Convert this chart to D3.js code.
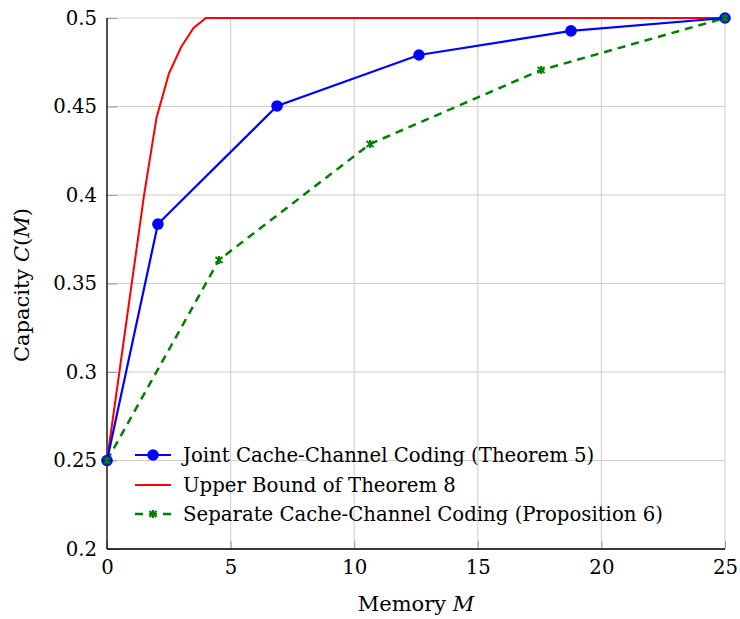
<!DOCTYPE html>
<html><head><meta charset="utf-8">
<script src="https://cdn.jsdelivr.net/npm/d3@7"></script>
<style>body{margin:0;background:#fff} text{font-family:'DejaVu Serif',serif}</style>
</head><body>
<svg id="c" width="740" height="619"></svg>
<script>
const jointX = [0, 2.06, 6.88, 12.62, 18.77, 25];
const jointY = [0.25, 0.3836, 0.4503, 0.4791, 0.4927, 0.5];
const upperX = [0, 0.5, 1, 1.5, 2, 2.5, 3, 3.5, 4, 25];
const upperY = [0.25, 0.30, 0.35, 0.40, 0.4435, 0.4684, 0.4836, 0.4944, 0.5, 0.5];
const sepX = [0, 4.53, 10.64, 17.56, 25];
const sepY = [0.25, 0.3633, 0.4288, 0.4706, 0.5];
const xTicks = [0, 5, 10, 15, 20, 25];
const yTicks = [0.2, 0.25, 0.3, 0.35, 0.4, 0.45, 0.5];
const legendLabels = ["Joint Cache-Channel Coding (Theorem 5)", "Upper Bound of Theorem 8", "Separate Cache-Channel Coding (Proposition 6)"];

const svg = d3.select("#c");
const font = "'DejaVu Serif',serif";
const fs = 19.7;
const x = d3.scaleLinear().domain([0, 25]).range([107, 725]);
const y = d3.scaleLinear().domain([0.2, 0.5]).range([549, 18]);

// grid
svg.append("g").selectAll("line").data(xTicks).join("line")
  .attr("x1", d => x(d)).attr("x2", d => x(d)).attr("y1", y(0.2)).attr("y2", y(0.5))
  .attr("stroke", "#cccccc").attr("stroke-width", 1);
svg.append("g").selectAll("line").data(yTicks).join("line")
  .attr("x1", x(0)).attr("x2", x(25)).attr("y1", d => y(d)).attr("y2", d => y(d))
  .attr("stroke", "#cccccc").attr("stroke-width", 1);

// axes
const xAxis = d3.axisBottom(x).tickValues(xTicks).tickSize(-8).tickPadding(11).tickFormat(d3.format("d"));
const yAxis = d3.axisLeft(y).tickValues(yTicks).tickSize(-10).tickPadding(10).tickFormat(d => String(d));
const gx = svg.append("g").attr("transform", `translate(0,${y(0.2)})`).call(xAxis);
const gy = svg.append("g").attr("transform", `translate(${x(0)},0)`).call(yAxis);
[gx, gy].forEach(g => {
  g.attr("font-family", null).attr("font-size", null);
  g.select(".domain").remove();
  g.selectAll(".tick line").attr("stroke", "#999");
  g.selectAll("text").style("font-family", font).style("font-size", fs + "px").attr("fill", "#000");
});
svg.append("line").attr("x1", x(0)).attr("x2", x(0)).attr("y1", y(0.2)).attr("y2", y(0.5)).attr("stroke", "#000").attr("stroke-width", 1.3);
svg.append("line").attr("x1", x(0)).attr("x2", x(25)).attr("y1", y(0.2)).attr("y2", y(0.2)).attr("stroke", "#000").attr("stroke-width", 1.3);

const line = d3.line().x(d => x(d[0])).y(d => y(d[1]));
const upper = upperX.map((v, i) => [v, upperY[i]]);
const joint = jointX.map((v, i) => [v, jointY[i]]);
const sep = sepX.map((v, i) => [v, sepY[i]]);

svg.append("path").attr("d", line(upper)).attr("fill", "none").attr("stroke", "#ff0000").attr("stroke-width", 2);
svg.append("path").attr("d", line(sep)).attr("fill", "none").attr("stroke", "#008000").attr("stroke-width", 2.5).attr("stroke-dasharray", "8,6");
svg.append("path").attr("d", line(joint)).attr("fill", "none").attr("stroke", "#0000ff").attr("stroke-width", 2.2);
svg.append("g").selectAll("circle").data(joint).join("circle")
  .attr("cx", d => x(d[0])).attr("cy", d => y(d[1])).attr("r", 5.8).attr("fill", "#0000ff");

function cross(g, cx, cy) {
  g.append("path").attr("d", `M${cx - 3.5},${cy - 3}L${cx + 3.5},${cy + 3}M${cx + 3.5},${cy - 3}L${cx - 3.5},${cy + 3}M${cx},${cy - 4}L${cx},${cy + 4}`)
    .attr("stroke", "#008000").attr("stroke-width", 2).attr("fill", "none");
}
const mg = svg.append("g");
sep.forEach(d => cross(mg, x(d[0]), y(d[1])));

// legend
const ly = [455, 485, 514];
const lg = svg.append("g");
lg.append("line").attr("x1", 135).attr("x2", 171).attr("y1", ly[0]).attr("y2", ly[0]).attr("stroke", "#0000ff").attr("stroke-width", 2.2);
lg.append("circle").attr("cx", 153).attr("cy", ly[0]).attr("r", 5.8).attr("fill", "#0000ff");
lg.append("line").attr("x1", 135).attr("x2", 171).attr("y1", ly[1]).attr("y2", ly[1]).attr("stroke", "#ff0000").attr("stroke-width", 2);
lg.append("line").attr("x1", 135).attr("x2", 171).attr("y1", ly[2]).attr("y2", ly[2]).attr("stroke", "#008000").attr("stroke-width", 2.5).attr("stroke-dasharray", "8,6");
cross(lg, 153, ly[2]);
lg.selectAll("text").data(legendLabels).join("text")
  .attr("x", 183).attr("y", (d, i) => ly[i]).attr("dy", "0.35em")
  .style("font-family", font).style("font-size", fs + "px").text(d => d);

// axis labels
const xl = svg.append("text").attr("x", 416).attr("y", 611).attr("text-anchor", "middle").style("font-family", font).style("font-size", "21px");
xl.append("tspan").text("Memory ");
xl.append("tspan").attr("font-style", "italic").text("M");
const yl = svg.append("text").attr("transform", "translate(29,285) rotate(-90)").attr("text-anchor", "middle").style("font-family", font).style("font-size", "21px");
yl.append("tspan").text("Capacity ");
yl.append("tspan").attr("font-style", "italic").text("C");
yl.append("tspan").text("(");
yl.append("tspan").attr("font-style", "italic").text("M");
yl.append("tspan").text(")");
</script>
</body></html>
